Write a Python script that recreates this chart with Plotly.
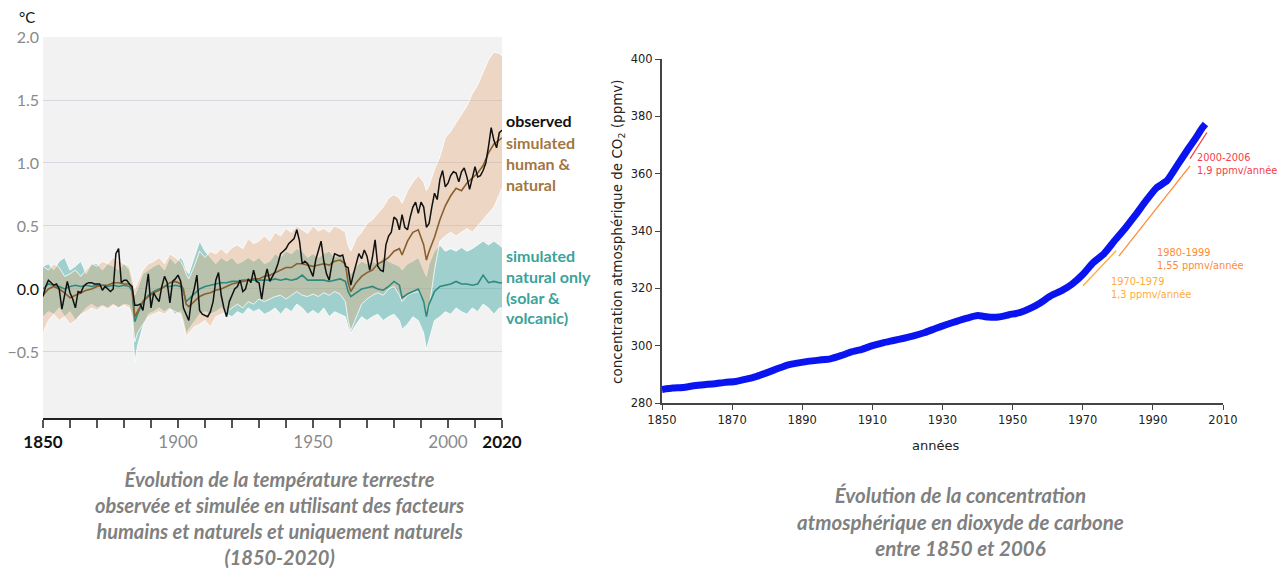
import plotly.graph_objects as go

# ---------------- Left chart data (°C, relative to 1850-1900) ----------------
obs_years = list(range(1850, 2021))
observed = [
    -0.06, 0.02, 0.07, 0.05, 0.03, 0.04, 0.00, -0.16, -0.05, 0.06,   # 1850-59
    -0.03, -0.08, -0.15, -0.02, -0.03, 0.02, 0.04, 0.05, 0.05, 0.04, # 1860-69
    0.04, 0.04, -0.01, 0.02, 0.00, -0.02, 0.00, 0.28, 0.32, 0.05,    # 1870-79
    0.07, 0.07, 0.04, 0.02, -0.13, -0.13, -0.12, -0.17, -0.03, 0.12, # 1880-89
    -0.15, -0.03, -0.07, -0.10, 0.02, 0.10, 0.05, -0.11, 0.06, 0.08, # 1890-99
    0.11, 0.06, -0.15, -0.20, -0.25, -0.08, 0.00, 0.11, -0.17, -0.20,# 1900-09
    -0.21, -0.22, -0.18, -0.10, 0.07, 0.13, -0.05, -0.15, -0.22, -0.10, # 1910-19
    -0.05, 0.00, 0.02, 0.07, -0.02, 0.00, 0.08, 0.05, 0.15, 0.06,    # 1920-29
    0.05, -0.08, 0.07, 0.16, 0.06, 0.10, 0.14, 0.20, 0.28, 0.30,     # 1930-39
    0.32, 0.36, 0.38, 0.40, 0.47, 0.38, 0.20, 0.22, 0.20, 0.15,      # 1940-49
    0.10, 0.23, 0.30, 0.38, 0.22, 0.12, 0.07, 0.20, 0.28, 0.27,      # 1950-59
    0.26, 0.27, 0.18, 0.17, 0.03, 0.12, 0.20, 0.28, 0.24, 0.31,      # 1960-69
    0.26, 0.15, 0.25, 0.39, 0.18, 0.15, 0.14, 0.35, 0.42, 0.45,      # 1970-79
    0.57, 0.55, 0.47, 0.59, 0.49, 0.47, 0.57, 0.65, 0.69, 0.60,      # 1980-89
    0.69, 0.65, 0.49, 0.52, 0.65, 0.76, 0.71, 0.87, 0.94, 0.81,      # 1990-99
    0.84, 0.90, 0.93, 0.92, 0.85, 0.93, 0.96, 0.89, 0.79, 0.87,      # 2000-09
    0.97, 0.89, 0.90, 0.94, 1.00, 1.13, 1.28, 1.18, 1.12, 1.24,      # 2010-19
    1.26,                                                            # 2020
]

sim_years = [1850, 1852, 1854, 1856, 1858, 1860, 1862, 1864, 1866, 1868, 1870, 1872,
             1874, 1876, 1878, 1880, 1882, 1883, 1884, 1885, 1887, 1889, 1891, 1893,
             1895, 1897, 1899, 1901, 1902, 1903, 1904, 1906, 1908, 1910, 1912, 1914,
             1916, 1918, 1920, 1922, 1924, 1926, 1928, 1930, 1932, 1934, 1936, 1938,
             1940, 1942, 1944, 1946, 1948, 1950, 1952, 1954, 1956, 1958, 1960, 1962,
             1963, 1964, 1966, 1968, 1970, 1972, 1974, 1976, 1978, 1980, 1982, 1983,
             1985, 1987, 1989, 1991, 1992, 1993, 1995, 1997, 1999, 2001, 2003, 2005,
             2007, 2009, 2011, 2013, 2015, 2017, 2019, 2020]

human_nat = [-0.05, 0.00, 0.02, 0.00, -0.03, -0.07, -0.05, -0.03, -0.01, 0.00, 0.02, 0.03,
             0.03, 0.05, 0.05, 0.04, 0.04, 0.00, -0.22, -0.18, -0.10, -0.06, -0.03, -0.01,
             0.02, 0.05, 0.06, 0.04, 0.00, -0.12, -0.14, -0.10, -0.06, -0.04, -0.03, -0.01,
             0.00, 0.02, 0.04, 0.05, 0.06, 0.07, 0.08, 0.08, 0.10, 0.11, 0.13, 0.15,
             0.17, 0.17, 0.20, 0.20, 0.19, 0.18, 0.19, 0.20, 0.19, 0.22, 0.23, 0.20,
             0.05, -0.02, 0.05, 0.10, 0.13, 0.15, 0.20, 0.22, 0.25, 0.30, 0.32, 0.27,
             0.38, 0.45, 0.47, 0.35, 0.23, 0.30, 0.41, 0.55, 0.66, 0.74, 0.80, 0.78,
             0.84, 0.88, 0.92, 0.98, 1.08, 1.15, 1.18, 1.20]
human_nat_hi = [0.18, 0.15, 0.20, 0.17, 0.10, 0.12, 0.15, 0.10, 0.15, 0.20, 0.18, 0.22,
                0.20, 0.25, 0.22, 0.20, 0.18, 0.10, 0.00, 0.05, 0.15, 0.20, 0.22, 0.25,
                0.20, 0.28, 0.25, 0.22, 0.18, 0.12, 0.08, 0.18, 0.30, 0.25, 0.30, 0.28,
                0.32, 0.28, 0.33, 0.35, 0.32, 0.40, 0.36, 0.38, 0.42, 0.38, 0.45, 0.42,
                0.48, 0.45, 0.50, 0.47, 0.44, 0.50, 0.46, 0.48, 0.45, 0.50, 0.48, 0.45,
                0.35, 0.30, 0.40, 0.45, 0.52, 0.55, 0.60, 0.65, 0.72, 0.75, 0.72, 0.68,
                0.78, 0.85, 0.90, 0.85, 0.78, 0.82, 0.95, 1.05, 1.20, 1.25, 1.32, 1.38,
                1.45, 1.55, 1.62, 1.72, 1.82, 1.88, 1.87, 1.85]
human_nat_lo = [-0.35, -0.25, -0.20, -0.25, -0.22, -0.28, -0.25, -0.20, -0.18, -0.15, -0.17, -0.14,
                -0.16, -0.13, -0.15, -0.13, -0.15, -0.20, -0.42, -0.35, -0.28, -0.22, -0.20, -0.18,
                -0.20, -0.16, -0.18, -0.20, -0.28, -0.38, -0.35, -0.30, -0.28, -0.25, -0.30, -0.22,
                -0.20, -0.18, -0.15, -0.12, -0.15, -0.10, -0.12, -0.08, -0.10, -0.08, -0.06, -0.05,
                -0.08, -0.05, -0.02, -0.05, -0.06, -0.04, -0.06, -0.03, -0.05, -0.02, -0.04, -0.10,
                -0.25, -0.33, -0.22, -0.12, -0.08, -0.05, -0.03, -0.05, 0.00, 0.02, -0.05, -0.10,
                -0.05, -0.03, -0.02, -0.10, -0.20, -0.15, 0.15, 0.38, 0.42, 0.45, 0.42, 0.45,
                0.48, 0.45, 0.50, 0.55, 0.60, 0.65, 0.75, 0.80]

natural = [0.00, 0.04, 0.03, 0.02, 0.00, 0.02, 0.03, 0.02, 0.03, 0.02, 0.03, 0.03,
           0.02, 0.03, 0.02, 0.03, 0.02, -0.02, -0.26, -0.20, -0.10, -0.05, -0.02, 0.00,
           0.02, 0.02, 0.03, 0.02, -0.02, -0.10, -0.08, -0.04, 0.00, 0.02, 0.03, 0.04,
           0.05, 0.05, 0.06, 0.06, 0.07, 0.07, 0.07, 0.07, 0.07, 0.07, 0.08, 0.07,
           0.08, 0.07, 0.08, 0.11, 0.07, 0.07, 0.07, 0.07, 0.06, 0.07, 0.08, 0.06,
           -0.02, -0.06, -0.03, 0.00, 0.01, 0.02, 0.00, -0.01, 0.02, 0.06, 0.03, -0.07,
           -0.04, -0.02, 0.00, -0.10, -0.22, -0.12, -0.02, 0.02, 0.03, 0.04, 0.06, 0.04,
           0.04, 0.03, 0.04, 0.11, 0.05, 0.06, 0.05, 0.05]
natural_hi = [0.18, 0.20, 0.15, 0.22, 0.25, 0.15, 0.18, 0.22, 0.12, 0.20, 0.20, 0.15,
              0.20, 0.18, 0.15, 0.20, 0.15, 0.05, -0.05, 0.00, 0.12, 0.15, 0.18, 0.20,
              0.15, 0.25, 0.20, 0.25, 0.22, 0.15, 0.12, 0.25, 0.38, 0.30, 0.25, 0.20,
              0.25, 0.22, 0.25, 0.20, 0.22, 0.25, 0.22, 0.25, 0.20, 0.22, 0.28, 0.25,
              0.30, 0.28, 0.32, 0.30, 0.25, 0.28, 0.25, 0.28, 0.30, 0.25, 0.28, 0.22,
              0.15, 0.12, 0.18, 0.22, 0.20, 0.22, 0.20, 0.25, 0.22, 0.20, 0.18, 0.15,
              0.20, 0.22, 0.25, 0.15, 0.10, 0.20, 0.30, 0.35, 0.30, 0.32, 0.30, 0.33,
              0.30, 0.32, 0.35, 0.38, 0.35, 0.38, 0.35, 0.33]
natural_lo = [-0.22, -0.18, -0.20, -0.15, -0.22, -0.18, -0.25, -0.20, -0.15, -0.12, -0.15, -0.13,
              -0.15, -0.12, -0.15, -0.12, -0.13, -0.25, -0.58, -0.45, -0.30, -0.20, -0.18, -0.15,
              -0.18, -0.15, -0.20, -0.18, -0.25, -0.35, -0.32, -0.25, -0.20, -0.18, -0.20, -0.18,
              -0.15, -0.20, -0.22, -0.18, -0.20, -0.15, -0.18, -0.16, -0.20, -0.18, -0.15, -0.20,
              -0.15, -0.18, -0.12, -0.15, -0.20, -0.17, -0.20, -0.15, -0.22, -0.18, -0.20, -0.22,
              -0.30, -0.35, -0.28, -0.22, -0.25, -0.22, -0.20, -0.25, -0.22, -0.20, -0.25, -0.32,
              -0.28, -0.22, -0.25, -0.35, -0.48, -0.40, -0.25, -0.22, -0.18, -0.20, -0.15, -0.18,
              -0.20, -0.15, -0.18, -0.12, -0.15, -0.20, -0.15, -0.15]

temp_ytick_vals = [-0.5, 0.0, 0.5, 1.0, 1.5, 2.0]
temp_ytick_text = ["<span style='color:#8a8a8a'>−0.5</span>", "0.0",
                   "<span style='color:#8a8a8a'>0.5</span>", "<span style='color:#8a8a8a'>1.0</span>",
                   "<span style='color:#8a8a8a'>1.5</span>", "<span style='color:#8a8a8a'>2.0</span>"]
temp_xtick_vals = [1850, 1900, 1950, 2000, 2020]
temp_xtick_text = ["<b>1850</b>", "<span style='color:#8a8a8a'>1900</span>",
                   "<span style='color:#8a8a8a'>1950</span>",
                   "<span style='color:#8a8a8a'>2000</span>", "<b>2020</b>"]

# ---------------- Right chart data (CO2 ppmv) ----------------
co2_years = [1850, 1853, 1856, 1859, 1862, 1865, 1868, 1871, 1874, 1877, 1880, 1883,
             1886, 1889, 1892, 1895, 1898, 1901, 1904, 1907, 1910, 1913, 1916, 1919,
             1922, 1925, 1928, 1931, 1934, 1937, 1940, 1943, 1946, 1949, 1952, 1955,
             1958, 1961, 1964, 1967, 1970, 1973, 1976, 1979, 1982, 1985, 1988, 1991,
             1994, 1997, 2000, 2002, 2004, 2005]
co2_ppmv = [284.7, 285.2, 285.4, 286.0, 286.4, 286.7, 287.2, 287.5, 288.3, 289.3, 290.6, 292.0,
            293.3, 294.0, 294.6, 295.0, 295.4, 296.5, 297.8, 298.7, 300.0, 301.0, 301.8, 302.6,
            303.5, 304.6, 306.0, 307.3, 308.5, 309.6, 310.5, 310.0, 310.0, 310.8, 311.5, 313.0,
            315.0, 317.5, 319.2, 321.5, 324.8, 329.0, 332.0, 336.5, 340.8, 345.5, 350.5, 355.0,
            357.5, 363.0, 368.5, 372.0, 375.8, 377.3]

trend_labels = ["1970-1979<br>1,3 ppmv/année", "1980-1999<br>1,55 ppmv/année",
                "2000-2006<br>1,9 ppmv/année"]
trend_start = [1970.1, 1980.3, 2000.6]
trend_end = [1979.5, 2000.6, 2005.4]
trend_slope = [1.3, 1.55, 1.9]
trend_mid_value = [327.0, 347.0, 369.8]
trend_colors = ["#ffab3a", "#ff8a33", "#f5404a"]
trend_label_x = [1977.6, 1990.6, 2001.9]
trend_label_y = [320.0, 330.3, 363.3]

# page is drawn with an 8px offset, so positions measured on the reference are shifted
OFF = 8
W, H = 1285, 571


def px(x):
    return (x - OFF) / W


def py(y):
    return 1 - (y - OFF) / H


fig = go.Figure()

# ---- left: bands ----
fig.add_trace(go.Scatter(x=sim_years, y=natural_lo, mode="lines",
                         line=dict(color="white", width=0.8), hoverinfo="skip",
                         showlegend=False, xaxis="x", yaxis="y"))
fig.add_trace(go.Scatter(x=sim_years, y=natural_hi, mode="lines", fill="tonexty",
                         fillcolor="rgba(70,172,166,0.48)",
                         line=dict(color="white", width=0.8), hoverinfo="skip",
                         showlegend=False, xaxis="x", yaxis="y"))
fig.add_trace(go.Scatter(x=sim_years, y=human_nat_lo, mode="lines",
                         line=dict(color="white", width=0.8), hoverinfo="skip",
                         showlegend=False, xaxis="x", yaxis="y"))
fig.add_trace(go.Scatter(x=sim_years, y=human_nat_hi, mode="lines", fill="tonexty",
                         fillcolor="rgba(228,170,122,0.38)",
                         line=dict(color="white", width=0.8), hoverinfo="skip",
                         showlegend=False, xaxis="x", yaxis="y"))
# ---- left: lines ----
fig.add_trace(go.Scatter(x=sim_years, y=natural, mode="lines",
                         line=dict(color="#2e8a80", width=1.6),
                         showlegend=False, xaxis="x", yaxis="y"))
fig.add_trace(go.Scatter(x=sim_years, y=human_nat, mode="lines",
                         line=dict(color="#8a5f2e", width=1.6),
                         showlegend=False, xaxis="x", yaxis="y"))
fig.add_trace(go.Scatter(x=obs_years, y=observed, mode="lines",
                         line=dict(color="#111111", width=1.5),
                         showlegend=False, xaxis="x", yaxis="y"))

# ---- right: CO2 ----
fig.add_trace(go.Scatter(x=co2_years, y=co2_ppmv, mode="lines",
                         line=dict(color="#0a14f0", width=7, shape="spline", smoothing=0.4),
                         showlegend=False, xaxis="x2", yaxis="y2"))
for i in range(3):
    xs = [trend_start[i], trend_end[i]]
    xm = (trend_start[i] + trend_end[i]) / 2
    ys = [trend_mid_value[i] + trend_slope[i] * (x - xm) for x in xs]
    fig.add_trace(go.Scatter(x=xs, y=ys, mode="lines",
                             line=dict(color=trend_colors[i], width=1.3),
                             showlegend=False, xaxis="x2", yaxis="y2"))

annotations = []
for i in range(3):
    annotations.append(dict(x=trend_label_x[i], y=trend_label_y[i], xref="x2", yref="y2",
                            text=trend_labels[i], showarrow=False, xanchor="left",
                            yanchor="middle", align="left",
                            font=dict(family="DejaVu Sans", size=9.8, color=trend_colors[i])))

lab_font = "Lato"
annotations += [
    dict(x=px(17), y=py(17), xref="paper", yref="paper", text="°C",
         showarrow=False, xanchor="left", yanchor="middle",
         font=dict(family=lab_font, size=15, color="#111")),
    dict(x=px(504), y=py(121), xref="paper", yref="paper", text="<b>observed</b>",
         showarrow=False, xanchor="left", yanchor="middle",
         font=dict(family=lab_font, size=16, color="#111")),
    dict(x=px(504), y=py(163), xref="paper", yref="paper",
         text="<b>simulated<br>human &<br>natural</b>", showarrow=False, xanchor="left",
         yanchor="middle", align="left",
         font=dict(family=lab_font, size=16, color="#a3773f")),
    dict(x=px(504), y=py(286), xref="paper", yref="paper",
         text="<b>simulated<br>natural only<br>(solar &<br>volcanic)</b>", showarrow=False,
         xanchor="left", yanchor="middle", align="left",
         font=dict(family=lab_font, size=16, color="#3aa39a")),
    dict(x=px(618), y=py(232), xref="paper", yref="paper",
         text="concentration atmosphérique de CO<sub>2</sub> (ppmv)", textangle=-90,
         showarrow=False, xanchor="center", yanchor="middle",
         font=dict(family="DejaVu Sans", size=13.5, color="#222")),
    dict(x=px(935), y=py(445), xref="paper", yref="paper", text="années",
         showarrow=False, xanchor="center", yanchor="middle",
         font=dict(family="DejaVu Sans", size=13, color="#222")),
    dict(x=px(279), y=py(518), xref="paper", yref="paper",
         text="<b><i>Évolution de la température terrestre<br>observée et simulée en utilisant des facteurs<br>"
              "humains et naturels et uniquement naturels<br>(1850-2020)</i></b>",
         showarrow=False, xanchor="center", yanchor="middle", align="center",
         font=dict(family="Lato", size=20, color="#808080")),
    dict(x=px(960), y=py(521), xref="paper", yref="paper",
         text="<b><i>Évolution de la concentration<br>atmosphérique en dioxyde de carbone<br>entre 1850 et 2006</i></b>",
         showarrow=False, xanchor="center", yanchor="middle", align="center",
         font=dict(family="Lato", size=20.5, color="#808080")),
]

fig.update_layout(
    width=W, height=H, margin=dict(l=0, r=0, t=0, b=0, autoexpand=False),
    paper_bgcolor="white", plot_bgcolor="white",
    showlegend=False,
    xaxis=dict(domain=[px(43), px(502)], range=[1850, 2020], anchor="y",
               automargin=False,
               tickvals=temp_xtick_vals, ticktext=temp_xtick_text,
               showgrid=False, zeroline=False, showline=True, linecolor="#222", linewidth=2,
               ticks="outside", ticklen=8, tickwidth=1.5, tickcolor="#555",
               minor=dict(tick0=1850, dtick=10, ticks="outside", ticklen=8, tickwidth=1.5,
                          tickcolor="#555", showgrid=False),
               tickfont=dict(family=lab_font, size=17, color="#111")),
    yaxis=dict(domain=[py(418), py(37)], range=[-1.024, 2.0], anchor="x",
               automargin=False,
               tickvals=temp_ytick_vals, ticktext=temp_ytick_text,
               showgrid=True, gridcolor="#d7d7e0", gridwidth=1.2, zeroline=False,
               showline=False, ticks="", ticklabelstandoff=3,
               tickfont=dict(family=lab_font, size=16, color="#111")),
    xaxis2=dict(domain=[px(662), px(1223)], range=[1850, 2010], anchor="y2",
                automargin=False,
                tick0=1850, dtick=20, showgrid=False, zeroline=False, showline=True,
                linecolor="#444", linewidth=2, ticks="outside", ticklen=5, tickcolor="#444",
                tickfont=dict(family="DejaVu Sans", size=11.5, color="#222")),
    yaxis2=dict(domain=[py(403), py(59)], range=[280, 400], anchor="x2",
                automargin=False,
                tick0=280, dtick=20, showgrid=False, zeroline=False, showline=True,
                linecolor="#444", linewidth=2, ticks="outside", ticklen=5, tickcolor="#444",
                tickfont=dict(family="DejaVu Sans", size=11.5, color="#222")),
    shapes=[dict(type="rect", xref="x domain", yref="y domain", x0=0, x1=1, y0=0, y1=1,
                 fillcolor="#f2f2f2", line=dict(width=0), layer="below")],
    annotations=annotations,
)

fig.write_html("out.html")
